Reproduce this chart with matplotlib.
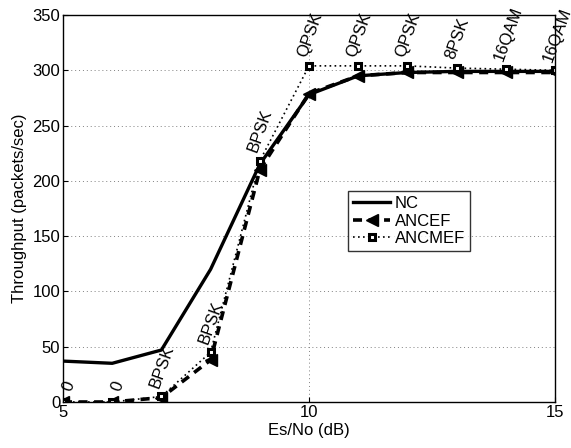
import numpy as np
import matplotlib
matplotlib.use('Agg')
import matplotlib.pyplot as plt

plt.rcParams['font.family'] = ['Liberation Sans', 'DejaVu Sans']

# data
snr = [5, 6, 7, 8, 9, 10, 11, 12, 13, 14, 15]
nc = [37, 35, 47, 120, 215, 278, 295, 298, 299, 299, 299]
ancef = [0, 0, 4, 38, 210, 279, 295, 298, 298, 298, 298]
ancmef = [0, 0, 5, 45, 218, 304, 304, 304, 302, 301, 300]
mod_labels = ['0', '0', 'BPSK', 'BPSK', 'BPSK', 'QPSK', 'QPSK', 'QPSK', '8PSK', '16QAM', '16QAM']

fig = plt.figure(figsize=(5.71, 4.48), dpi=100)
ax = fig.add_axes([63/571, 46/448, 492/571, 387/448])

ax.plot(snr, nc, 'k-', linewidth=2.4, label='NC')
ax.plot(snr, ancef, color='k', linestyle=(0, (2.5, 1.8)), linewidth=2.6,
        marker='<', markersize=8, label='ANCEF')
ax.plot(snr, ancmef, color='k', linestyle=(0, (1, 2)), linewidth=1.2,
        marker='s', markersize=4.5, markerfacecolor='white', markeredgewidth=2.2,
        markeredgecolor='black', label='ANCMEF')

# modulation labels
for x, y, s in zip(snr, ancmef, mod_labels):
    if s == '0':
        ax.text(x + 0.12, y + 8, s, rotation=70, fontsize=12, ha='center', va='bottom')
    else:
        ax.text(x, y + 6, s, rotation=70, fontsize=12, ha='left', va='bottom',
                rotation_mode='anchor')

ax.set_xlim(5, 15)
ax.set_ylim(0, 350)
ax.set_xticks([5, 10, 15])
ax.set_yticks(range(0, 351, 50))
ax.grid(True, linestyle=(0, (1, 3)), color='gray', linewidth=0.7)
ax.tick_params(direction='in', labelsize=12, pad=2)
for sp in ax.spines.values():
    sp.set_linewidth(1.0)
ax.set_xlabel('Es/No (dB)', fontsize=12, labelpad=2)
ax.set_ylabel('Throughput (packets/sec)', fontsize=12)

leg = ax.legend(loc='upper left', bbox_to_anchor=(0.58, 0.545), fontsize=12,
                frameon=True, fancybox=False, edgecolor='black', handlelength=2.2,
                borderpad=0.3, labelspacing=0.15, handletextpad=0.3,
                borderaxespad=0)
leg.get_frame().set_linewidth(1.0)

fig.savefig('out.png', dpi=100)
